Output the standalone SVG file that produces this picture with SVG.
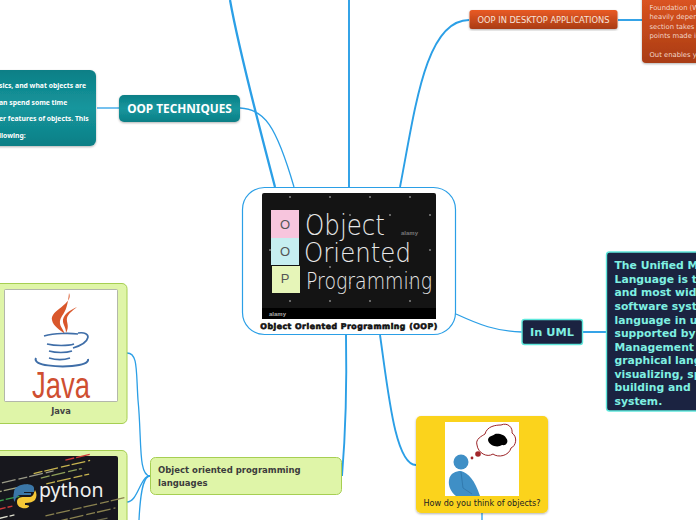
<svg xmlns="http://www.w3.org/2000/svg" width="696" height="520" viewBox="0 0 696 520">
<defs>
<linearGradient id="teal" x1="0" y1="0" x2="0" y2="1"><stop offset="0" stop-color="#0e7f86"/><stop offset=".5" stop-color="#14969d"/><stop offset="1" stop-color="#0e7f86"/></linearGradient>
<linearGradient id="rust" x1="0" y1="0" x2="0" y2="1"><stop offset="0" stop-color="#e95a24"/><stop offset="1" stop-color="#a93c15"/></linearGradient>
<filter id="sh" x="-5%" y="-5%" width="110%" height="115%"><feDropShadow dx="0" dy="1" stdDeviation="1" flood-color="#000" flood-opacity=".3"/></filter>
</defs>
<style>
.c{fill:none;stroke:#2b9fe6;stroke-width:1.3}
.m{stroke-width:1.9}
.h{stroke-width:2.300}
.t{font-family:"Noto Sans",sans-serif}
.d{font-family:"DejaVu Sans",sans-serif}
.b{font-weight:700}
.w{fill:#fff}
.a{font-family:"Liberation Sans",sans-serif;font-size:6px;fill:#777;font-weight:700}
</style>
<rect width="696" height="520" fill="#fff"/>
<g id="connectors">
<path class="c h" d="M230 0C238 45 256 115 275 187"/>
<path class="c" d="M240 108C264 109 276 125 294 187"/>
<path class="c m" d="M349 0V187"/>
<path class="c m" d="M400 187C415 110 425 20 469 20"/>
<path class="c m" d="M618 20H642"/>
<path class="c" d="M97 108H119"/>
<path class="c" d="M456 314C480 325 495 331 522 332"/>
<path class="c m" d="M583 332H606"/>
<path class="c m" d="M380 335C388 390 395 465 416 465"/>
<path class="c" d="M482 513V520"/>
<path class="c m" d="M346 335C347 390 345 440 342 476"/>
<path class="c" d="M150 476C138 476 142 440 138 400C136 370 138 353 127 353"/>
<path class="c" d="M150 476C140 476 138 502 127 502"/>
<path class="c" d="M150 476C142 476 140 500 139 520"/>
</g>
<g id="node-oop-techniques-note">
<rect x="-12" y="70" width="108" height="76" rx="6" fill="url(#teal)" filter="url(#sh)"/>
<g class="t b w" font-size="6.800">
<text x="-1" y="88">sics, and what objects are</text>
<text x="-1" y="104.500">an spend some time</text>
<text x="-1" y="121">er features of objects. This</text>
<text x="-1" y="137.500">llowing:</text>
</g>
</g>
<g id="node-oop-techniques">
<rect x="119" y="95" width="121" height="27" rx="5" fill="url(#teal)" filter="url(#sh)"/>
<text class="t b w" x="179.500" y="113" font-size="11.800" text-anchor="middle">OOP TECHNIQUES</text>
</g>
<g id="node-root">
<rect x="242.500" y="187.500" width="213" height="147" rx="22" fill="#fff" stroke="#2b9fe6" stroke-width="1.200"/>
<rect x="262" y="193" width="174" height="126" rx="2" fill="#141414"/>
<rect x="262" y="308" width="174" height="11" fill="#000"/>
<path d="M289 197h2M329 197h2M369 197h2M409 197h2M309 215h2M349 215h2M389 215h2M429 215h2M269 250h2M349 250h2M429 250h2M329 267h2M389 267h2M309 283h2M349 283h2M409 283h2M289 301h2M329 301h2M369 301h2M409 301h2" stroke="#666" stroke-width="2" fill="none"/>
<rect x="271" y="210" width="28" height="28" fill="#f7c5dd"/>
<rect x="271" y="238" width="28" height="27" fill="#c6eef0"/>
<rect x="272" y="266" width="28" height="27" fill="#e6f5b8"/>
<g font-family="'Liberation Sans',sans-serif" font-size="13" fill="#555" text-anchor="middle"><text x="285" y="229">O</text><text x="285" y="256">O</text><text x="285" y="283">P</text></g>
<g font-family="'DejaVu Sans',sans-serif" font-weight="200" fill="#e8e8e8">
<text x="305" y="235" font-size="28" textLength="80" lengthAdjust="spacingAndGlyphs">Object</text>
<text x="304" y="262" font-size="26" textLength="107" lengthAdjust="spacingAndGlyphs">Oriented</text>
<text x="306" y="289" font-size="23" textLength="126" lengthAdjust="spacingAndGlyphs">Programming</text>
</g>
<text class="a" x="401" y="235">alamy</text><text class="a" x="269" y="316" style="fill:#aaa">alamy</text>
<text class="d b" x="349" y="329" font-size="7.800" text-anchor="middle" fill="#111" stroke="#111" stroke-width=".6" letter-spacing=".5">Object Oriented Programming (OOP)</text>
</g>
<g id="node-desktop">
<rect x="469.500" y="10" width="148" height="19" rx="2.500" fill="url(#rust)" filter="url(#sh)"/>
<text class="d" x="543.500" y="23" font-size="8.300" fill="#f6e3da" text-anchor="middle">OOP IN DESKTOP APPLICATIONS</text>
</g>
<g id="node-desktop-note">
<rect x="642" y="-20" width="80" height="83" rx="4" fill="url(#rust)" filter="url(#sh)"/>
<g class="d" font-size="6.800" fill="#f3d6c8">
<text x="649.500" y="9.500">Foundation (W</text>
<text x="649.500" y="19">heavily depen</text>
<text x="649.500" y="28.500">section takes</text>
<text x="649.500" y="38">points made in</text>
<text x="649.500" y="57">Out enables yo</text>
</g>
</g>
<g id="node-uml">
<rect x="522" y="319.500" width="60.500" height="25" rx="2.500" fill="#1b2341" stroke="#5fe8dc" stroke-width="1.400"/>
<text class="d b" x="552" y="336" font-size="11.300" fill="#7ff0e2" text-anchor="middle">In UML</text>
</g>
<g id="node-uml-note">
<rect x="606.500" y="252" width="110" height="159" rx="3" fill="#1b2341" stroke="#5fe8dc" stroke-width="1.400"/>
<g class="d b" font-size="10.800" fill="#7ff0e2">
<text x="614.500" y="269">The Unified Modeling</text>
<text x="614.500" y="282.500">Language is the</text>
<text x="614.500" y="296">and most widely</text>
<text x="614.500" y="309.500">software system</text>
<text x="614.500" y="323.500">language in use</text>
<text x="614.500" y="336.500">supported by</text>
<text x="614.500" y="350.500">Management</text>
<text x="614.500" y="363.500">graphical language</text>
<text x="614.500" y="377.500">visualizing, specifying</text>
<text x="614.500" y="390.500">building and</text>
<text x="614.500" y="404.500">system.</text>
</g>
</g>
<g id="node-objects">
<rect x="416" y="416" width="132" height="97" rx="5" fill="#fbd31e" filter="url(#sh)"/>
<rect x="445" y="422" width="74" height="74" fill="#fff"/>
<path d="M477 445C475 439 482 436 485 434C487 426 496 425 501 425C508 422 513 428 512 433C518 437 516 446 511 448C509 456 498 458 493 454C487 458 478 453 477 445Z" fill="#fff" stroke="#9c2428" stroke-width="1"/>
<path d="M488 440C488 436 493 436 495 434C499 433 505 435 506 438C509 441 507 446 502 445C498 448 489 446 488 440Z" fill="#000"/>
<circle cx="478" cy="454" r="2.800" fill="#a2262a"/><circle cx="472" cy="458" r="1.400" fill="#a2262a"/>
<circle cx="461" cy="462" r="7.500" fill="#3f8fc6"/>
<path d="M449 480C450 473 456 471 461 471C468 473 475 480 480 496H456C451 492 448 486 449 480Z" fill="#3f8fc6"/>
<path d="M461 472L463 488L472 494" fill="none" stroke="#2f75a8" stroke-width=".8"/>
<text class="d" x="482" y="506" font-size="8.100" fill="#222" text-anchor="middle">How do you think of objects?</text>
</g>
<g id="node-languages">
<rect x="150.500" y="457.500" width="191" height="37" rx="5" fill="#dff5a8" stroke="#a6cf52" stroke-width="1"/>
<g class="d b" font-size="8.500" fill="#3c3c3c"><text x="158" y="473">Object oriented programming</text><text x="158" y="486">languages</text></g>
</g>
<g id="node-java">
<rect x="-10" y="283.500" width="137" height="140" rx="5" fill="#dff5a8" stroke="#a6cf52" stroke-width="1"/>
<rect x="4.500" y="289.500" width="113" height="112" rx="1" fill="#fff" stroke="#999" stroke-width=".7"/>
<path d="M69 293C74 304 50 310 52 320C53 326 60 330 65 334C62 327 57 324 62 316C66 311 68 304 69 293Z" fill="#d9572b"/>
<path d="M77 307C70 310 62 315 63 322C64 326 66 328 66 333C70 326 66 322 67 318C68 314 72 311 77 307Z" fill="#d9572b"/>
<g fill="none" stroke="#3f6ea8" stroke-width="1.700">
<path d="M44 336C55 333 70 333 78 334"/><path d="M47 344C55 346 68 346 74 344"/><path d="M49 351C56 353 66 353 72 351"/><path d="M49 358C56 360 64 360 70 358"/><path d="M78 333C92 331 92 342 73 348"/><path d="M36 358C32 366 60 367 72 366C82 365 89 363 88 359" stroke-width="2"/>
</g>
<text x="61" y="398" font-family="'Liberation Sans',sans-serif" font-size="36" fill="#cf4f31" text-anchor="middle" textLength="58" lengthAdjust="spacingAndGlyphs">Java</text>
<text class="d b" x="61" y="414" font-size="8.300" fill="#444" text-anchor="middle">Java</text>
</g>
<g id="node-python">
<rect x="-10" y="450.500" width="137" height="90" rx="5" fill="#dff5a8" stroke="#a6cf52" stroke-width="1"/>
<rect x="-2" y="456" width="120" height="70" rx="2" fill="#17171d"/>
<g stroke-width="1.300" fill="none" transform="rotate(-13 60 490)" stroke-dasharray="9 2 14 3">
<path d="M-6 470H58" stroke="#9a9a88"/><path d="M-6 478H30" stroke="#a5a580"/><path d="M38 468H96" stroke="#c8b550"/><path d="M44 474H86" stroke="#8fa05a"/><path d="M48 481H92" stroke="#c8b550"/>
<path d="M-6 487H20" stroke="#3aa04a"/><path d="M-6 495H10" stroke="#d23a3a"/><path d="M-6 504H10" stroke="#e0e0d0"/>
<path d="M40 512H122" stroke="#8a8250"/><path d="M24 520H110" stroke="#8a8250"/><path d="M22 528H100" stroke="#6d6a4c"/><path d="M72 462H100" stroke="#d23a3a"/>
</g>
<path d="M14 492C14 483 34 482 34 488V492H24V493H31V495H20C17 495 15 499 15 502C13 500 13 496 14 492Z" fill="#3b77a8"/>
<path d="M35 490C37 493 37 497 35 500C33 502 30 503 25 503V505C29 505 31 506 27 508C22 509 17 507 17 502C17 498 20 497 24 497H30C33 497 34 493 35 490Z" fill="#f5c836"/>
<text x="39" y="497" font-family="'Noto Sans',sans-serif" font-size="19.500" fill="#f0f0f0">python</text>
</g>
</svg>
